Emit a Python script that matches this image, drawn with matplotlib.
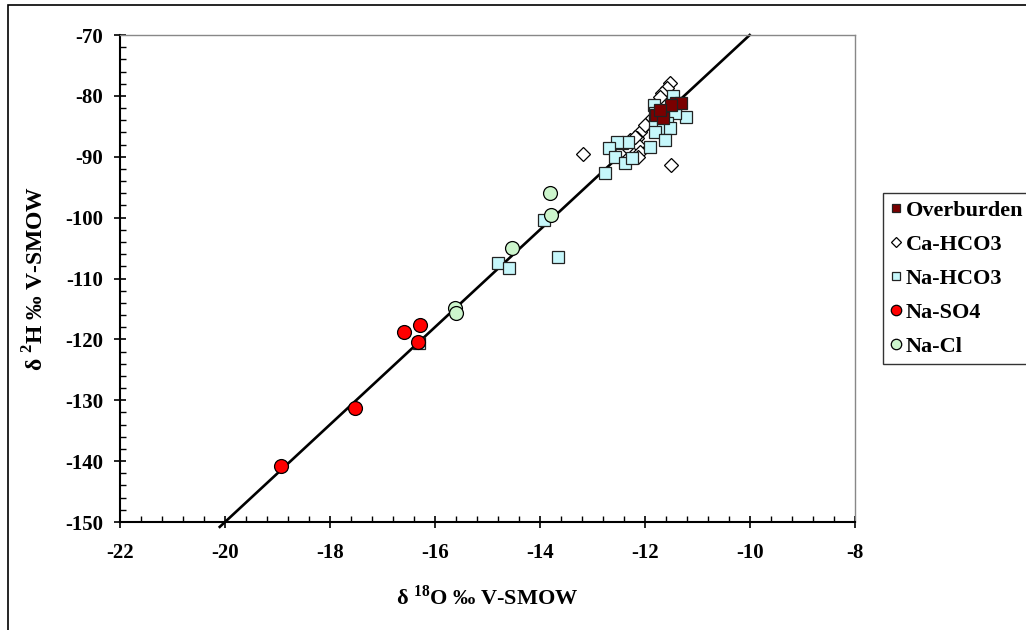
import matplotlib
matplotlib.use('Agg')
import matplotlib.pyplot as plt
from matplotlib.ticker import MultipleLocator
from matplotlib.patches import Rectangle

plt.rcParams['font.family'] = ['Liberation Serif', 'DejaVu Serif']
plt.rcParams['font.weight'] = 'bold'
plt.rcParams['axes.unicode_minus'] = False
plt.rcParams['mathtext.fontset'] = 'custom'
plt.rcParams['mathtext.rm'] = 'Liberation Serif:bold'

# Overburden
ob_o = [-11.79, -11.66, -11.41, -11.31, -11.50, -11.71]
ob_h = [-83.1, -83.6, -81.2, -81.2, -81.5, -82.3]

# Ca-HCO3
ca_o = [-11.52, -11.58, -11.68, -11.71, -11.87, -12.10, -12.15, -12.13, -12.10, -12.13, -11.50, -13.18,
        -12.29, -12.19, -12.44, -12.34, -12.00]
ca_h = [-77.9, -78.7, -79.5, -80.2, -83.6, -85.9, -86.9, -88.1, -89.2, -90.0, -91.3, -89.5,
        -87.2, -86.7, -88.9, -88.4, -84.8]

# Na-HCO3
nh_o = [-11.47, -11.83, -11.43, -11.22, -11.81, -11.58, -11.43, -11.81, -11.58, -11.66, -11.52, -11.81,
        -11.90, -11.62, -12.44, -12.32, -12.53, -12.69, -12.57, -12.38, -12.25, -12.76,
        -13.92, -13.66, -14.80, -14.59, -16.30]
nh_h = [-80.0, -81.5, -81.8, -83.5, -82.8, -82.8, -82.8, -84.4, -84.4, -85.3, -85.3, -85.9,
        -88.4, -87.2, -87.7, -87.6, -87.6, -88.6, -90.0, -91.0, -90.2, -92.7,
        -100.4, -106.5, -107.4, -108.3, -120.6]

# Na-SO4
ns_o = [-18.93, -17.52, -16.59, -16.29, -16.32]
ns_h = [-140.8, -131.2, -118.8, -117.6, -120.4]

# Na-Cl
nc_o = [-15.62, -15.60, -14.53, -13.81, -13.79]
nc_h = [-114.8, -115.6, -105.0, -95.9, -99.6]

# global meteoric water line
gmwl_o = [-20.1, -10.0]
gmwl_h = [8 * v + 10 for v in gmwl_o]

fig = plt.figure(figsize=(10.26, 6.3), dpi=100)
ax = fig.add_axes([0.117, 0.1714, 0.716, 0.773])

ax.plot(gmwl_o, gmwl_h, color='black', lw=1.9, clip_on=False, zorder=1)

ax.plot(ca_o, ca_h, 'D', ms=7, mfc='white', mec='black', mew=0.9, ls='none', label='Ca-HCO3', zorder=2)
ax.plot(nh_o, nh_h, 's', ms=8, mfc='#c6f7fb', mec='#222222', mew=0.9, ls='none', label='Na-HCO3', zorder=3)
ax.plot(ob_o, ob_h, 's', ms=8, mfc='#7a0000', mec='#222222', mew=0.9, ls='none', label='Overburden', zorder=4)
ax.plot(ns_o, ns_h, 'o', ms=10, mfc='#ff0000', mec='black', mew=0.9, ls='none', label='Na-SO4', zorder=5)
ax.plot(nc_o, nc_h, 'o', ms=10, mfc='#ccf5cc', mec='black', mew=0.9, ls='none', label='Na-Cl', zorder=5)

ax.set_xlim(-22, -8)
ax.set_ylim(-150, -70)
ax.xaxis.set_major_locator(MultipleLocator(2))
ax.xaxis.set_minor_locator(MultipleLocator(0.4))
ax.yaxis.set_major_locator(MultipleLocator(10))
ax.yaxis.set_minor_locator(MultipleLocator(2))
ax.tick_params(which='major', direction='inout', length=8, width=1.2, labelsize=15)
ax.tick_params(axis='x', which='major', pad=11)
ax.tick_params(axis='y', which='major', pad=8)
ax.tick_params(which='minor', direction='in', length=4, width=1)

for s in ['left', 'bottom']:
    ax.spines[s].set_linewidth(1.5)
for s in ['top', 'right']:
    ax.spines[s].set_color('#888888')
    ax.spines[s].set_linewidth(1)

ax.set_xlabel(r'δ $^{18}$O ‰ V-SMOW', fontsize=16, fontweight='bold', labelpad=16)
ax.set_ylabel(r'δ $^{2}$H ‰ V-SMOW', fontsize=17, fontweight='bold', labelpad=12)

handles, labels = ax.get_legend_handles_labels()
order = [labels.index(n) for n in ['Overburden', 'Ca-HCO3', 'Na-HCO3', 'Na-SO4', 'Na-Cl']]
leg = fig.legend([handles[i] for i in order], [labels[i] for i in order],
                 loc='upper left', bbox_to_anchor=(0.861, 0.694), fontsize=16,
                 frameon=True, fancybox=False, edgecolor='black', markerscale=0.75,
                 handlelength=0.4, handletextpad=0.25, labelspacing=0.6, borderpad=0.35,
                 borderaxespad=0, handleheight=0.7)
leg.get_frame().set_linewidth(1)

fig.patches.append(Rectangle((8 / 1026, -0.05), 1.1, 1 - 5 / 630 + 0.05, transform=fig.transFigure,
                             fill=False, edgecolor='black', lw=1.2))

fig.savefig('out.png', dpi=100)
